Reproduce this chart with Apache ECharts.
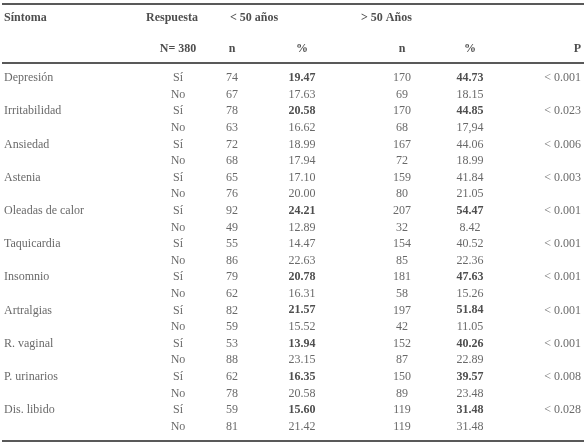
<!DOCTYPE html>
<html>
<head>
<meta charset="utf-8">
<script src="https://cdn.jsdelivr.net/npm/echarts@6/dist/echarts.min.js"></script>
<style>html,body{margin:0;padding:0;background:#fff}#table_chart{width:586px;height:445px}</style>
</head>
<body>
<div id="table_chart"></div>
<script>
// Data
var symptoms = ['Depresión', 'Irritabilidad', 'Ansiedad', 'Astenia', 'Oleadas de calor', 'Taquicardia',
    'Insomnio', 'Artralgias', 'R. vaginal', 'P. urinarios', 'Dis. libido'];
var nUnder50Si = [74, 78, 72, 65, 92, 55, 79, 82, 53, 62, 59];
var pctUnder50Si = ['19.47', '20.58', '18.99', '17.10', '24.21', '14.47', '20.78', '21.57', '13.94', '16.35', '15.60'];
var nOver50Si = [170, 170, 167, 159, 207, 154, 181, 197, 152, 150, 119];
var pctOver50Si = ['44.73', '44.85', '44.06', '41.84', '54.47', '40.52', '47.63', '51.84', '40.26', '39.57', '31.48'];
var nUnder50No = [67, 63, 68, 76, 49, 86, 62, 59, 88, 78, 81];
var pctUnder50No = ['17.63', '16.62', '17.94', '20.00', '12.89', '22.63', '16.31', '15.52', '23.15', '20.58', '21.42'];
var nOver50No = [69, 68, 72, 80, 32, 85, 58, 42, 87, 89, 119];
var pctOver50No = ['18.15', '17,94', '18.99', '21.05', '8.42', '22.36', '15.26', '11.05', '22.89', '23.48', '31.48'];
var pValues = ['< 0.001', '< 0.023', '< 0.006', '< 0.003', '< 0.001', '< 0.001', '< 0.001', '< 0.001', '< 0.001', '< 0.008', '< 0.028'];
var boldPct = [1, 1, 0, 0, 1, 0, 1, 1, 1, 1, 1];

// Layout
var rowY = function(i) { return 78 + i * 16.6; };
var colX = { sym: 4, resp: 178, n1: 232, p1: 302, n2: 402, p2: 470, p: 581 };
var cells = []; // [x, y, text, align, bold]
cells.push([4, 18, 'Síntoma', 'left', 1], [146, 18, 'Respuesta', 'left', 1],
    [230, 18, '< 50 años', 'left', 1], [361, 18, '> 50 Años', 'left', 1]);
cells.push([colX.resp, 49, 'N= 380', 'center', 1], [colX.n1, 49, 'n', 'center', 1], [colX.p1, 49, '%', 'center', 1],
    [colX.n2, 49, 'n', 'center', 1], [colX.p2, 49, '%', 'center', 1], [colX.p, 49, 'P', 'right', 1]);
symptoms.forEach(function(s, i) {
    var y1 = rowY(2 * i), y2 = rowY(2 * i + 1);
    cells.push([colX.sym, y1, s, 'left', 0], [colX.resp, y1, 'Sí', 'center', 0],
        [colX.n1, y1, String(nUnder50Si[i]), 'center', 0], [colX.p1, y1, pctUnder50Si[i], 'center', boldPct[i]],
        [colX.n2, y1, String(nOver50Si[i]), 'center', 0], [colX.p2, y1, pctOver50Si[i], 'center', boldPct[i]],
        [colX.p, y1, pValues[i], 'right', 0]);
    cells.push([colX.resp, y2, 'No', 'center', 0],
        [colX.n1, y2, String(nUnder50No[i]), 'center', 0], [colX.p1, y2, pctUnder50No[i], 'center', 0],
        [colX.n2, y2, String(nOver50No[i]), 'center', 0], [colX.p2, y2, pctOver50No[i], 'center', 0]);
});

var chart = echarts.init(document.getElementById('table_chart'), null, { renderer: 'canvas' });
chart.setOption({
    animation: false,
    grid: { left: 0, right: 0, top: 0, bottom: 0 },
    xAxis: { type: 'value', min: 0, max: 586, show: false },
    yAxis: { type: 'value', min: 0, max: 445, inverse: true, show: false },
    graphic: [
        { type: 'line', shape: { x1: 2, y1: 4, x2: 584, y2: 4 }, style: { stroke: '#222', lineWidth: 1.5 } },
        { type: 'line', shape: { x1: 2, y1: 63, x2: 584, y2: 63 }, style: { stroke: '#222', lineWidth: 1.5 } },
        { type: 'line', shape: { x1: 2, y1: 441, x2: 584, y2: 441 }, style: { stroke: '#222', lineWidth: 1.5 } }
    ],
    series: [{
        type: 'scatter',
        symbolSize: 1,
        itemStyle: { color: 'transparent' },
        data: cells.map(function(c) {
            return {
                value: [c[0], c[1]],
                label: {
                    show: true, position: 'inside', formatter: c[2], align: c[3], verticalAlign: 'middle',
                    fontFamily: 'Liberation Serif, serif', fontSize: 12,
                    fontWeight: c[4] ? 'bold' : 'normal', color: c[4] ? '#222' : '#444'
                }
            };
        })
    }]
});
</script>
</body>
</html>
